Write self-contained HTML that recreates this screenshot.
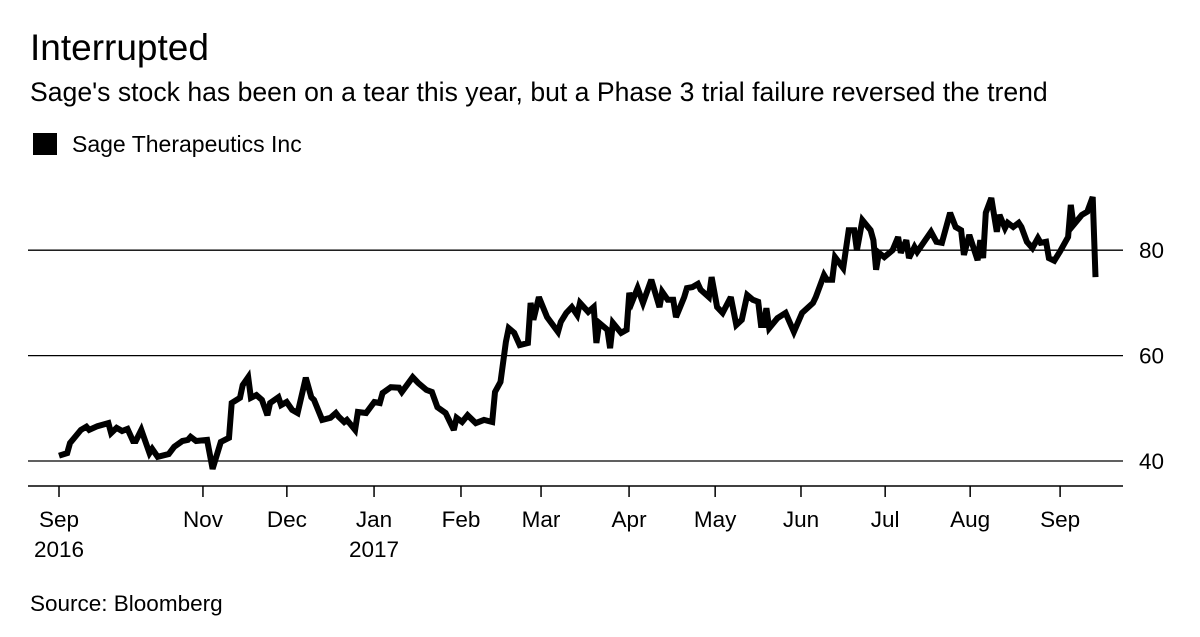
<!DOCTYPE html>
<html><head><meta charset="utf-8"><style>
body{margin:0;background:#fff;width:1200px;height:637px;overflow:hidden;font-family:"Liberation Sans",sans-serif;}
svg{display:block}
</style></head><body>
<svg width="1200" height="637" id="chart">
<text x="30" y="60" font-size="37" fill="#000">Interrupted</text>
<text x="30" y="101" font-size="26.6" fill="#000">Sage's stock has been on a tear this year, but a Phase 3 trial failure reversed the trend</text>
<rect x="33" y="133" width="24" height="22" fill="#000"/>
<text x="72" y="152" font-size="23" fill="#000">Sage Therapeutics Inc</text>
<g id="grid"></g>
<g id="xaxis"></g>
<path id="line" fill="none" stroke="#000" stroke-width="6" stroke-linejoin="miter" stroke-miterlimit="3"/>
<text x="30" y="611" font-size="22.5" fill="#000">Source: Bloomberg</text>
</svg>
<script>
const days=[0,3,4,8,10,11,14,18,19,21,23,25,27,28,30,33,34,36,40,42,45,47,48,50,54,56,59,62,63,66,67,69,70,72,74,76,77,80,81,83,85,87,90,92,93,96,99,101,102,104,105,108,109,112,115,117,118,121,124,125,129,131,134,136,138,141,144,145,147,149,152,155,158,159,161,163,164,166,168,171,172,173,175,178,182,183,185,187,189,190,193,195,196,197,200,201,202,205,207,208,209,211,213,216,219,220,222,224,225,228,229,231,233,234,237,238,240,242,245,247,249,251,253,255,256,257,258,259,262,265,268,271,275,276,279,280,282,283,286,288,290,291,293,296,297,298,299,301,304,306,307,309,310,312,313,318,320,322,325,327,329,330,332,335,336,337,338,340,342,343,345,346,348,350,351,353,355,357,358,360,361,363,365,368,369,370,373,375,377,378];
const prices=[41.0,41.5,43.4,45.9,46.5,45.9,46.6,47.2,45.3,46.3,45.7,46.1,43.8,43.8,45.9,41.5,42.3,40.8,41.3,42.7,43.8,44.0,44.6,43.8,44.0,38.5,43.6,44.4,51.0,52.0,54.4,55.9,52.0,52.5,51.6,48.7,51.0,52.1,50.6,51.2,49.7,49.1,55.8,52.1,51.6,47.8,48.2,49.1,48.4,47.4,47.8,45.9,49.3,49.1,51.2,51.0,52.9,54.0,53.9,53.1,55.9,54.8,53.5,53.1,50.2,49.1,45.9,48.2,47.4,48.7,47.2,47.8,47.4,53.1,55.0,62.6,65.2,64.3,62.0,62.4,70.0,66.8,71.1,67.3,64.5,66.4,68.1,69.2,67.7,70.0,68.3,69.2,62.4,66.2,64.9,61.4,66.2,64.3,64.9,71.9,70.2,72.8,70.0,74.4,69.2,72.1,70.6,70.6,67.3,71.1,72.8,73.0,73.6,72.5,71.1,74.9,69.2,68.1,71.1,65.8,66.8,71.5,70.6,70.2,65.8,65.8,69.0,65.2,67.1,68.1,64.5,68.1,70.0,71.1,75.3,74.4,74.4,78.7,76.6,83.8,83.8,80.0,85.7,83.8,81.9,76.3,79.5,78.7,80.0,82.5,79.5,81.9,78.5,80.6,79.7,83.5,81.6,81.4,87.1,84.4,83.8,79.1,82.9,78.1,81.9,78.5,87.1,89.9,83.5,86.7,84.2,85.2,84.4,85.2,84.4,81.6,80.4,82.3,81.4,81.6,78.5,78.0,79.7,82.5,88.6,84.8,86.7,87.3,90.1,74.9];
const yTicks=[40,60,80];
const monthLabels=["Sep","Nov","Dec","Jan","Feb","Mar","Apr","May","Jun","Jul","Aug","Sep"];
const monthPos=[0,52.5,83.1,114.9,146.6,175.8,207.9,239.3,270.6,301.3,332.3,365.1];
const yearLabels=["2016","","","2017","","","","","","","",""];
const NS="http://www.w3.org/2000/svg";
function xs(d){return 59+d*2.742;}
function ys(v){return 461-(v-40)*5.27;}
const grid=document.getElementById('grid');
yTicks.forEach(t=>{
  const l=document.createElementNS(NS,'line');
  l.setAttribute('x1',28);l.setAttribute('x2',1123);l.setAttribute('y1',ys(t));l.setAttribute('y2',ys(t));
  l.setAttribute('stroke','#000');l.setAttribute('stroke-width','1.3');
  
  
  grid.appendChild(l);
  const tx=document.createElementNS(NS,'text');
  tx.setAttribute('x',1139);tx.setAttribute('y',ys(t)+8);tx.setAttribute('font-size','22.5');
  tx.textContent=t;
  
  
  grid.appendChild(tx);
});
const xa=document.getElementById('xaxis');
const ax=document.createElementNS(NS,'line');
ax.setAttribute('x1',28);ax.setAttribute('x2',1123);ax.setAttribute('y1',486);ax.setAttribute('y2',486);
ax.setAttribute('stroke','#000');ax.setAttribute('stroke-width','1.5');


xa.appendChild(ax);
monthLabels.forEach((m,i)=>{
  const x=xs(monthPos[i]);
  const tk=document.createElementNS(NS,'line');
  tk.setAttribute('x1',x);tk.setAttribute('x2',x);tk.setAttribute('y1',486);tk.setAttribute('y2',497);
  tk.setAttribute('stroke','#000');tk.setAttribute('stroke-width','1.5');
  
  
  xa.appendChild(tk);
  const t=document.createElementNS(NS,'text');
  t.setAttribute('x',x);t.setAttribute('y',527);t.setAttribute('font-size','22.5');t.setAttribute('text-anchor','middle');
  t.textContent=m;
  
  
  xa.appendChild(t);
  if(yearLabels[i]){
    const y=document.createElementNS(NS,'text');
    y.setAttribute('x',x);y.setAttribute('y',557);y.setAttribute('font-size','22.5');y.setAttribute('text-anchor','middle');
    y.textContent=yearLabels[i];
    
    
    xa.appendChild(y);
  }
});
document.getElementById('line').setAttribute('d',days.map((d,i)=>(i?'L':'M')+xs(d).toFixed(1)+','+ys(prices[i]).toFixed(1)).join(''));
</script>
</body></html>
